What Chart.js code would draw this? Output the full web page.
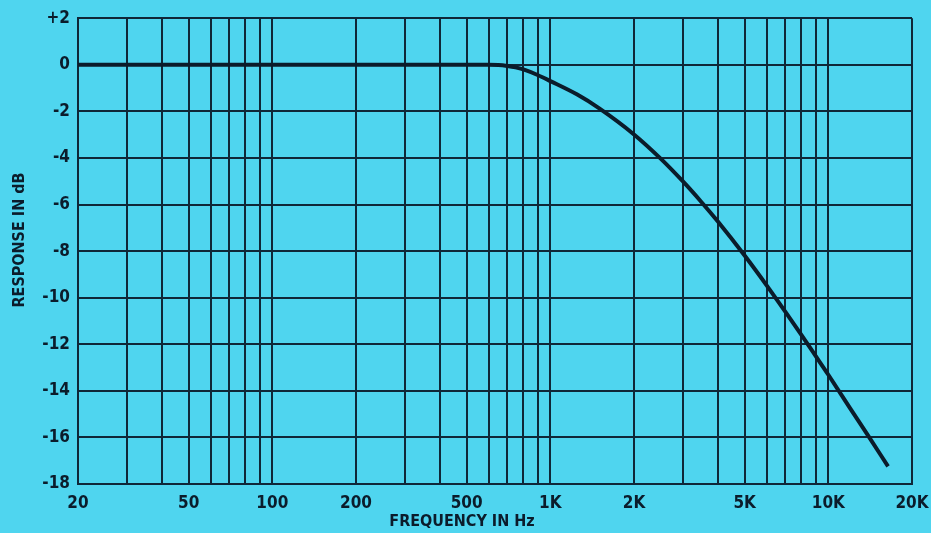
<!DOCTYPE html>
<html>
<head>
<meta charset="utf-8">
<script src="https://cdn.jsdelivr.net/npm/chart.js@4.4.1/dist/chart.umd.min.js"></script>
<style>
  html, body { margin: 0; padding: 0; background: #4fd5ef; }
  #wrap { width: 931px; height: 533px; }
</style>
</head>
<body>
<div id="wrap"><canvas id="responseChart" width="931" height="533"></canvas></div>
<script>
// frequency response
var freqHz = [20, 50, 100, 200, 500, 600, 650, 700, 750, 800, 900, 1000, 1250, 1500, 2000, 2500,
  3000, 3500, 4000, 5000, 6000, 7000, 8000, 9000, 10000, 12000, 14000, 16400];
var responseDb = [0, 0, 0, 0, 0, 0, -0.01, -0.05, -0.11, -0.2, -0.44, -0.7, -1.28, -1.87, -2.99, -4.04,
  -5.01, -5.9, -6.72, -8.19, -9.47, -10.6, -11.6, -12.5, -13.31, -14.76, -15.98, -17.24];

// vertical grid lines (1..9 per decade)
var gridFreqs = [20, 30, 40, 50, 60, 70, 80, 90, 100, 200, 300, 400, 500, 600, 700, 800, 900,
  1000, 2000, 3000, 4000, 5000, 6000, 7000, 8000, 9000, 10000, 20000];
var labeledFreqs = [20, 50, 100, 200, 500, 1000, 2000, 5000, 10000, 20000];
var freqLabels = ['20', '50', '100', '200', '500', '1K', '2K', '5K', '10K', '20K'];

var ink = '#0b1c2b';
var gridInk = '#0f2738';
var fontFamily = "'DejaVu Sans Condensed', 'DejaVu Sans', sans-serif";

// axis captions, placed by hand
var axisCaptions = {
  id: 'axisCaptions',
  afterDraw: function(chart) {
    var ctx = chart.ctx;
    ctx.save();
    ctx.fillStyle = ink;
    ctx.font = 'bold 16px ' + fontFamily;
    ctx.textAlign = 'center';
    ctx.textBaseline = 'middle';
    ctx.fillText('FREQUENCY IN Hz', 462, 522);
    ctx.translate(20, 240);
    ctx.rotate(-Math.PI / 2);
    ctx.fillText('RESPONSE IN dB', 0, 0);
    ctx.restore();
  }
};

var ctx = document.getElementById('responseChart').getContext('2d');
var responseChart = new Chart(ctx, {
  type: 'line',
  data: {
    datasets: [{
      data: freqHz.map(function(f, i) { return { x: f, y: responseDb[i] }; }),
      borderColor: ink,
      borderWidth: 4,
      pointRadius: 0,
      cubicInterpolationMode: 'monotone',
      fill: false
    }]
  },
  options: {
    responsive: false,
    animation: false,
    layout: { padding: { top: 17, right: 19, left: 0, bottom: 0 } },
    plugins: { legend: { display: false }, tooltip: { enabled: false } },
    scales: {
      x: {
        type: 'logarithmic',
        min: 20,
        max: 20000,
        afterBuildTicks: function(axis) {
          axis.ticks = gridFreqs.map(function(v) { return { value: v }; });
        },
        afterFit: function(axis) {
          axis.height = 49;
          axis.paddingLeft = 0;
          axis.paddingRight = 0;
        },
        grid: { color: gridInk, lineWidth: 2, drawTicks: false },
        border: { color: gridInk, width: 2 },
        ticks: {
          autoSkip: false,
          maxRotation: 0,
          padding: 9,
          color: ink,
          font: { family: fontFamily, size: 17, weight: 'bold' },
          callback: function(value) {
            var i = labeledFreqs.indexOf(value);
            return i >= 0 ? freqLabels[i] : '';
          }
        }
      },
      y: {
        min: -18,
        max: 2,
        afterFit: function(axis) { axis.width = 78; },
        grid: { color: gridInk, lineWidth: 2, drawTicks: false },
        border: { color: gridInk, width: 2 },
        ticks: {
          stepSize: 2,
          padding: 8,
          color: ink,
          font: { family: fontFamily, size: 17, weight: 'bold' },
          callback: function(value) { return value > 0 ? '+' + value : String(value); }
        }
      }
    }
  },
  plugins: [axisCaptions]
});
</script>
</body>
</html>
